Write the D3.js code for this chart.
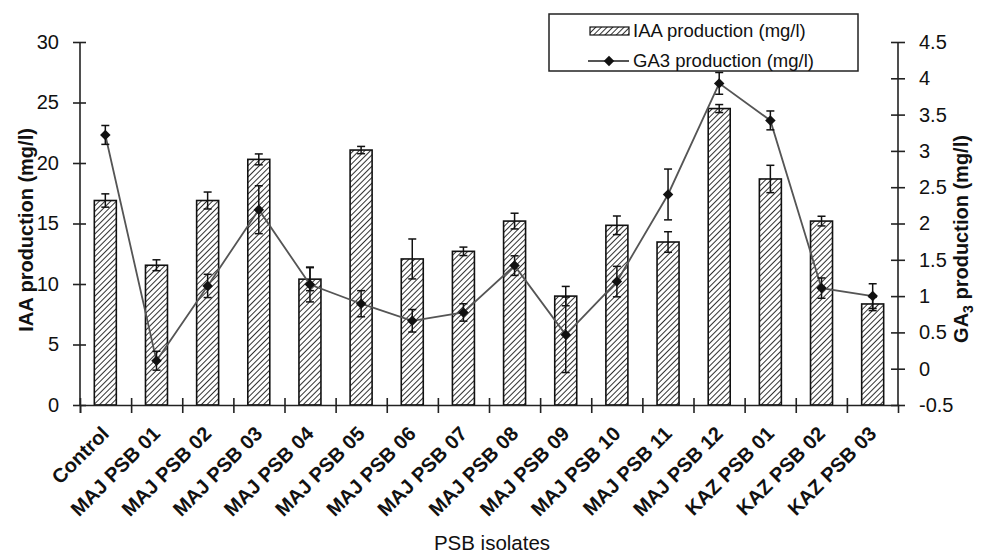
<!DOCTYPE html>
<html>
<head>
<meta charset="utf-8">
<script src="https://cdn.jsdelivr.net/npm/d3@7"></script>
<style>
  body { margin: 0; background: #fff; }
  text { font-family: "Liberation Sans", Arial, sans-serif; fill: #111; }
</style>
</head>
<body>
<svg id="chart" width="983" height="556"></svg>
<script>
// isolates on the x axis
var isolates = ["Control", "MAJ PSB 01", "MAJ PSB 02", "MAJ PSB 03", "MAJ PSB 04", "MAJ PSB 05",
    "MAJ PSB 06", "MAJ PSB 07", "MAJ PSB 08", "MAJ PSB 09", "MAJ PSB 10", "MAJ PSB 11",
    "MAJ PSB 12", "KAZ PSB 01", "KAZ PSB 02", "KAZ PSB 03"];
// IAA production (mg/l), bars, left axis
var iaa    = [16.9, 11.55, 16.9, 20.3, 10.4, 21.07, 12.07, 12.7, 15.2, 9.0, 14.85, 13.47, 24.5, 18.68, 15.2, 8.35];
var iaaErr = [0.55, 0.45, 0.7, 0.45, 0.95, 0.3, 1.65, 0.35, 0.65, 0.8, 0.77, 0.85, 0.33, 1.13, 0.4, 0.55];
// GA3 production (mg/l), line, right axis
var ga3    = [3.22, 0.11, 1.14, 2.19, 1.16, 0.895, 0.66, 0.775, 1.42, 0.467, 1.20, 2.40, 3.93, 3.42, 1.11, 1.0];
var ga3Err = [0.13, 0.13, 0.16, 0.33, 0.24, 0.18, 0.155, 0.12, 0.135, 0.52, 0.21, 0.35, 0.15, 0.13, 0.14, 0.17];
// tick labels
var leftTicks = [0, 5, 10, 15, 20, 25, 30];
var rightTicks = [-0.5, 0, 0.5, 1, 1.5, 2, 2.5, 3, 3.5, 4, 4.5];

var svg = d3.select("#chart");
var plotL = 80, plotR = 898, plotT = 42, plotB = 405;

var x = d3.scaleBand().domain(isolates).range([plotL, plotR]).paddingInner(0.57).paddingOuter(0.28);
var xEdge = d3.scaleLinear().domain([0, isolates.length]).range([plotL, plotR]);
var yL = d3.scaleLinear().domain([0, 30]).range([plotB, plotT]);
var yR = d3.scaleLinear().domain([-0.5, 4.5]).range([plotB, plotT]);
var cx = function(d, i){ return x(isolates[i]) + x.bandwidth() / 2; };

// hatch pattern for the bars
var defs = svg.append("defs");
var pat = defs.append("pattern")
    .attr("id", "hatch")
    .attr("patternUnits", "userSpaceOnUse")
    .attr("width", 4).attr("height", 4)
    .attr("patternTransform", "rotate(45)");
pat.append("rect").attr("width", 4).attr("height", 4).attr("fill", "#fff");
pat.append("line").attr("x1", 0).attr("y1", 0).attr("x2", 0).attr("y2", 4)
    .attr("stroke", "#1a1a1a").attr("stroke-width", 1.8);

// bars
svg.append("g").selectAll("rect")
    .data(iaa)
    .enter().append("rect")
    .attr("x", function(d, i){ return x(isolates[i]); })
    .attr("y", function(d){ return yL(d); })
    .attr("width", x.bandwidth())
    .attr("height", function(d){ return plotB - yL(d); })
    .attr("fill", "url(#hatch)")
    .attr("stroke", "#111")
    .attr("stroke-width", 1.6);

function errorBars(g, vals, errs, scale){
    var cap = 4;
    vals.forEach(function(v, i){
        var c = cx(v, i), y0 = scale(v - errs[i]), y1 = scale(v + errs[i]);
        g.append("line").attr("x1", c).attr("x2", c).attr("y1", y0).attr("y2", y1);
        g.append("line").attr("x1", c - cap).attr("x2", c + cap).attr("y1", y0).attr("y2", y0);
        g.append("line").attr("x1", c - cap).attr("x2", c + cap).attr("y1", y1).attr("y2", y1);
    });
}
var eb1 = svg.append("g").attr("stroke", "#111").attr("stroke-width", 1.5);
errorBars(eb1, iaa, iaaErr, yL);

// GA3 line
var line = d3.line().x(function(d, i){ return cx(d, i); }).y(function(d){ return yR(d); });
svg.append("path")
    .datum(ga3)
    .attr("d", line)
    .attr("fill", "none")
    .attr("stroke", "#555")
    .attr("stroke-width", 1.8);

var eb2 = svg.append("g").attr("stroke", "#111").attr("stroke-width", 1.5);
errorBars(eb2, ga3, ga3Err, yR);

svg.append("g").selectAll("path")
    .data(ga3)
    .enter().append("path")
    .attr("transform", function(d, i){ return "translate(" + cx(d, i) + "," + yR(d) + ")"; })
    .attr("d", d3.symbol(d3.symbolDiamond2, 70))
    .attr("fill", "#111");

// axes
var axisColor = "#222";
var gL = svg.append("g").attr("transform", "translate(" + plotL + ",0)")
    .call(d3.axisLeft(yL).tickValues(leftTicks).tickSize(7).tickPadding(14));
gL.selectAll(".tick line").attr("x2", 6).attr("x1", -7);

var gR = svg.append("g").attr("transform", "translate(" + plotR + ",0)")
    .call(d3.axisRight(yR).tickValues(rightTicks).tickSize(7).tickPadding(14)
    .tickFormat(function(d){ return d; }));
gR.selectAll(".tick line").attr("x1", -7).attr("x2", 7);

var gX = svg.append("g").attr("transform", "translate(0," + plotB + ")")
    .call(d3.axisBottom(xEdge).tickValues(d3.range(0, isolates.length)).tickSize(8).tickFormat(""));
gX.selectAll(".tick line").attr("y1", -7);

[gL, gR, gX].forEach(function(g){
    g.select(".domain").attr("stroke", axisColor).attr("stroke-width", 1.6);
    g.selectAll(".tick line").attr("stroke", axisColor).attr("stroke-width", 1.6);
    g.selectAll(".tick text").attr("font-size", "20px")
        .attr("font-family", "Liberation Sans, Arial, sans-serif").attr("fill", "#111");
});
gL.select(".domain").attr("d", "M0," + plotB + "V" + plotT);
gR.select(".domain").attr("d", "M0," + plotB + "V" + plotT);

// category labels
svg.append("g").selectAll("text")
    .data(isolates)
    .enter().append("text")
    .attr("transform", function(d){ return "translate(" + (x(d) + x.bandwidth() / 2) + ",430) rotate(-45)"; })
    .attr("text-anchor", "end")
    .attr("dy", "0.35em")
    .attr("font-size", "20px")
    .attr("font-weight", "bold")
    .text(function(d){ return d; });

// axis titles
svg.append("text")
    .attr("transform", "translate(33,230) rotate(-90)")
    .attr("text-anchor", "middle")
    .attr("font-size", "20px")
    .attr("font-weight", "bold")
    .text("IAA production (mg/l)");

var rt = svg.append("text")
    .attr("transform", "translate(968,239) rotate(-90)")
    .attr("text-anchor", "middle")
    .attr("font-size", "20px")
    .attr("font-weight", "bold");
rt.append("tspan").text("GA");
rt.append("tspan").attr("font-size", "14px").attr("dy", 5).text("3");
rt.append("tspan").attr("dy", -5).text(" production (mg/l)");

svg.append("text")
    .attr("x", 492).attr("y", 550)
    .attr("text-anchor", "middle")
    .attr("font-size", "20.5px")
    .text("PSB isolates");

// legend
var lg = svg.append("g");
lg.append("rect").attr("x", 549).attr("y", 14).attr("width", 309).attr("height", 57)
    .attr("fill", "#fff").attr("stroke", "#222").attr("stroke-width", 1.5);
lg.append("rect").attr("x", 590).attr("y", 27).attr("width", 39).attr("height", 8)
    .attr("fill", "url(#hatch)").attr("stroke", "#111").attr("stroke-width", 1.2);
lg.append("text").attr("x", 633).attr("y", 37).attr("font-size", "18.5px")
    .text("IAA production (mg/l)");
lg.append("line").attr("x1", 588).attr("x2", 629).attr("y1", 61).attr("y2", 61)
    .attr("stroke", "#555").attr("stroke-width", 1.8);
lg.append("path").attr("transform", "translate(609,61)")
    .attr("d", d3.symbol(d3.symbolDiamond2, 70)).attr("fill", "#111");
lg.append("text").attr("x", 633).attr("y", 67).attr("font-size", "18.5px")
    .text("GA3 production (mg/l)");
</script>
</body>
</html>
